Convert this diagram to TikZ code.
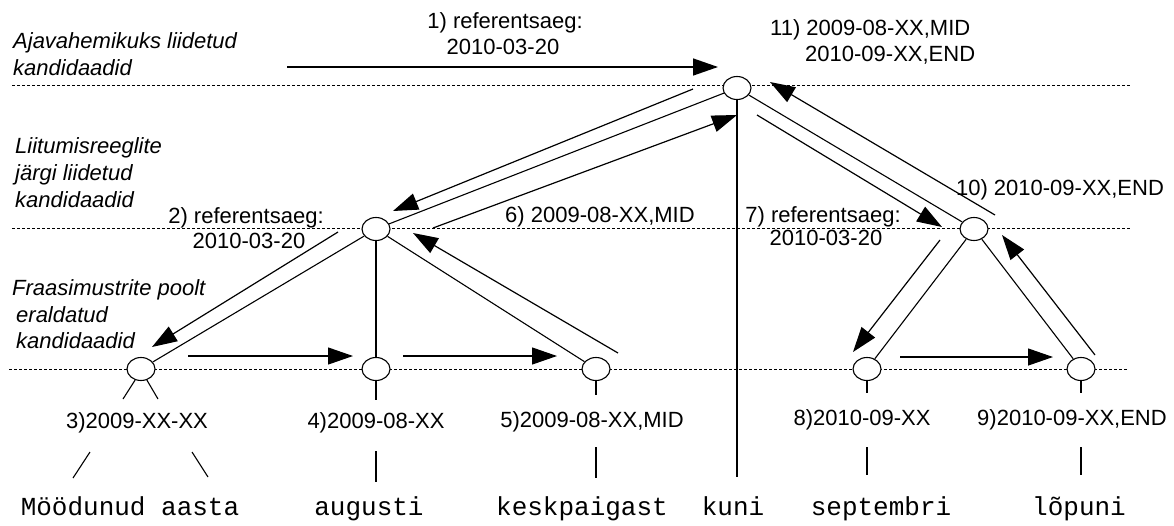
\documentclass[tikz,border=0pt]{standalone}
\usepackage{fontspec}
\setmainfont{Liberation Sans}
\setmonofont{Liberation Mono}
\usetikzlibrary{shapes.geometric,arrows.meta}
\tikzset{
  tnode/.style={ellipse, draw, fill=white, minimum width=28pt, minimum height=23pt, inner sep=0pt, line width=1.1pt},
  lab/.style={font=\fontsize{22}{26}\selectfont, inner sep=0pt, anchor=base},
  labw/.style={font=\fontsize{22}{26}\selectfont, inner sep=0pt, anchor=base west},
  lvl/.style={font=\fontsize{22}{27}\selectfont\itshape, inner sep=0pt, anchor=base west},
  word/.style={font=\fontsize{26}{30}\selectfont\ttfamily, inner sep=0pt, anchor=base},
  conn/.style={line width=1.1pt},
  arr/.style={line width=1.2pt, -{Triangle[length=25pt,width=17pt]}},
  lvline/.style={dash pattern=on 3pt off 2pt, line width=1pt},
}
\begin{document}
\begin{tikzpicture}[x=1pt,y=-1pt]
\useasboundingbox (0,0) rectangle (1174,525);
% level lines
\draw[lvline] (12,85) -- (1130,85);
\draw[lvline] (12,228) -- (1130,228);
\draw[lvline] (9,369) -- (1127,369);
% level labels
\node[lvl] (la1) at (13,48) {Ajavahemikuks liidetud};
\node[lvl] (la2) at (13,75) {kandidaadid};
\node[lvl] (lb1) at (15,153) {Liitumisreeglite};
\node[lvl] (lb2) at (15,180) {järgi liidetud};
\node[lvl] (lb3) at (15,207) {kandidaadid};
\node[lvl] (lc1) at (12,295) {Fraasimustrite poolt};
\node[lvl] (lc2) at (16,322) {eraldatud};
\node[lvl] (lc3) at (16,348) {kandidaadid};
% tree nodes
\node[tnode] (n11) at (737,88) {};
\node[tnode] (n2) at (376,229) {};
\node[tnode] (n10) at (974,229) {};
\node[tnode] (n3) at (141,369) {};
\node[tnode] (n4) at (376,369) {};
\node[tnode] (n5) at (596,369) {};
\node[tnode] (n8) at (867,369) {};
\node[tnode] (n9) at (1081,369) {};
% tree edges
\coordinate (kunitop) at (737,477);
\draw[conn] (n11) -- (n2);
\draw[conn] (n11) -- (n10);
\draw[conn] (n11.south) -- (kunitop);
\draw[conn] (n2) -- (n3);
\draw[conn] (n2) -- (n4);
\draw[conn] (n2) -- (n5);
\draw[conn] (n10) -- (n8);
\draw[conn] (n10) -- (n9);
% short stubs under nodes
\coordinate (s3a) at (123,399);
\coordinate (s3b) at (158,399);
\coordinate (s4) at (376,400);
\coordinate (s5) at (596,395);
\coordinate (s8) at (867,393);
\coordinate (s9) at (1081,393);
\draw[conn] (n3.-118) -- (s3a);
\draw[conn] (n3.-62) -- (s3b);
\draw[conn] (n4.south) -- (s4);
\draw[conn] (n5.south) -- (s5);
\draw[conn] (n8.south) -- (s8);
\draw[conn] (n9.south) -- (s9);
% node labels
\node[lab] (l3) at (137,428) {3)2009-XX-XX};
\node[lab] (l4) at (376,428) {4)2009-08-XX};
\node[lab] (l5) at (592,427) {5)2009-08-XX,MID};
\node[lab] (l8) at (862,425) {8)2010-09-XX};
\node[lab] (l9) at (1072,425) {9)2010-09-XX,END};
% stubs label to word
\coordinate (u1a) at (90,452);  \coordinate (v1a) at (73,478);
\coordinate (u1b) at (192,452); \coordinate (v1b) at (208,477);
\coordinate (u2) at (376,451);  \coordinate (v2) at (376,482);
\coordinate (u3) at (596,447);  \coordinate (v3) at (596,478);
\coordinate (u5) at (867,447);  \coordinate (v5) at (867,475);
\coordinate (u6) at (1081,447); \coordinate (v6) at (1081,475);
\draw[conn] (u1a) -- (v1a);
\draw[conn] (u1b) -- (v1b);
\draw[conn] (u2) -- (v2);
\draw[conn] (u3) -- (v3);
\draw[conn] (u5) -- (v5);
\draw[conn] (u6) -- (v6);
% words
\node[word] (w1) at (130,515) {Möödunud aasta};
\node[word] (w2) at (369,515) {augusti};
\node[word] (w3) at (582,515) {keskpaigast};
\node[word] (w4) at (733,515) {kuni};
\node[word] (w5) at (881,515) {septembri};
\node[word] (w6) at (1079,515) {lõpuni};
% step labels
\node[lab] (t1a) at (505,28) {1) referentsaeg:};
\node[lab] (t1b) at (503,54) {2010-03-20};
\node[labw] (t11a) at (770,35) {11) 2009-08-XX,MID};
\node[labw] (t11b) at (805,61) {2010-09-XX,END};
\node[lab] (t2a) at (246,223) {2) referentsaeg:};
\node[lab] (t2b) at (249,248) {2010-03-20};
\node[lab] (t6) at (600,222) {6) 2009-08-XX,MID};
\node[lab] (t7a) at (823,222) {7) referentsaeg:};
\node[lab] (t7b) at (826,245) {2010-03-20};
\node[lab] (t10) at (1060,195) {10) 2010-09-XX,END};
% arrows
\coordinate (a1s) at (287,67);   \coordinate (a1e) at (718,67);
\coordinate (a2s) at (693,89);   \coordinate (a2e) at (393,211);
\coordinate (a3s) at (338,232);  \coordinate (a3e) at (152,347);
\coordinate (a4s) at (188,356);  \coordinate (a4e) at (353,356);
\coordinate (a5s) at (403,356);  \coordinate (a5e) at (557,356);
\coordinate (a6s) at (618,353);  \coordinate (a6e) at (413,233);
\coordinate (a7s) at (433,228);  \coordinate (a7e) at (737,115);
\coordinate (a8s) at (757,115);  \coordinate (a8e) at (942,227);
\coordinate (a9s) at (940,240);  \coordinate (a9e) at (853,352);
\coordinate (a10s) at (900,357); \coordinate (a10e) at (1053,357);
\coordinate (a11s) at (1095,355);\coordinate (a11e) at (1002,235);
\coordinate (a12s) at (995,215); \coordinate (a12e) at (770,82);
\draw[arr, line width=1.5pt] (a1s) -- (a1e);
\draw[arr] (a2s) -- (a2e);
\draw[arr] (a3s) -- (a3e);
\draw[arr] (a4s) -- (a4e);
\draw[arr] (a5s) -- (a5e);
\draw[arr] (a6s) -- (a6e);
\draw[arr] (a7s) -- (a7e);
\draw[arr] (a8s) -- (a8e);
\draw[arr] (a9s) -- (a9e);
\draw[arr] (a10s) -- (a10e);
\draw[arr] (a11s) -- (a11e);
\draw[arr] (a12s) -- (a12e);
\end{tikzpicture}
\end{document}
